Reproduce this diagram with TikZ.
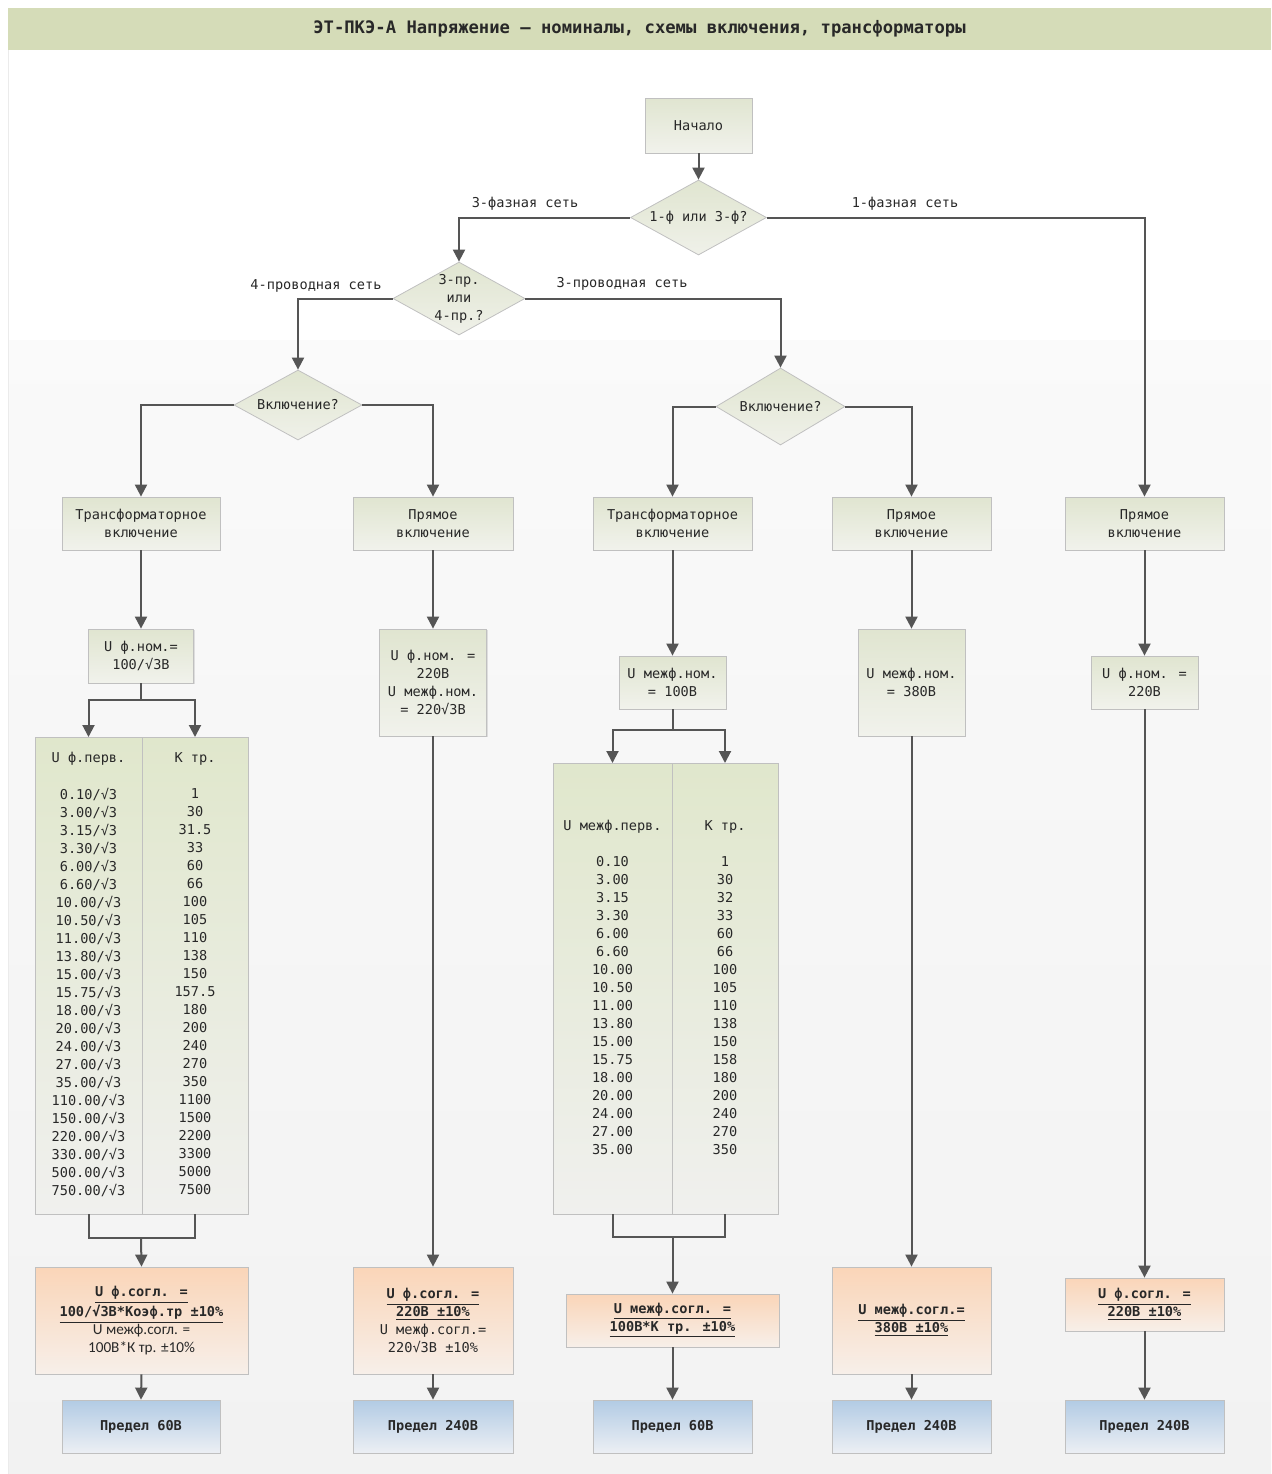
\documentclass[tikz,border=0pt]{standalone}
\usepackage{fontspec}
\setmainfont{DejaVu Sans Mono}
\newfontfamily\carl{Carlito}
\usetikzlibrary{shapes.geometric,arrows.meta,shadows,calc}
\definecolor{bordc}{RGB}{192,192,192}
\definecolor{arrc}{RGB}{85,85,85}
\definecolor{grtop}{RGB}{224,229,208}
\definecolor{grbot}{RGB}{241,242,236}
\definecolor{tbtop}{RGB}{224,231,204}
\definecolor{tbbot}{RGB}{240,240,238}
\definecolor{ortop}{RGB}{250,213,184}
\definecolor{orbot}{RGB}{247,239,233}
\definecolor{bltop}{RGB}{178,203,228}
\definecolor{blbot}{RGB}{236,239,244}
\definecolor{titlec}{RGB}{213,220,184}
\definecolor{bgc}{RGB}{242,242,242}
\definecolor{txtc}{RGB}{40,40,40}
\begin{document}
\begin{tikzpicture}[x=0.5pt,y=-0.5pt,
  txt/.style={font=\fontsize{6.8}{9}\selectfont, text=txtc},
  bx/.style={txt, draw=bordc, line width=0.4pt, align=center, inner sep=0pt,
    drop shadow={shadow xshift=0.7pt,shadow yshift=-0.7pt,fill=black,opacity=0.10}},
  grn/.style={bx, top color=grtop, bottom color=grbot},
  tbl/.style={bx, top color=tbtop, bottom color=tbbot},
  org/.style={bx, top color=ortop, bottom color=orbot},
  blu/.style={bx, top color=bltop, bottom color=blbot, font=\fontsize{6.8}{9}\selectfont\bfseries},
  dia/.style={shape=diamond, draw=bordc, line width=0.4pt, inner sep=0pt, top color=grtop, bottom color=grbot!90!grtop},
  cell/.style={txt, inner sep=0pt},
  arr/.style={draw=arrc, line width=1pt, -{Triangle[length=6pt,width=6pt]}},
  ln/.style={draw=arrc, line width=1pt}
]
\useasboundingbox (0,0) rectangle (1271,1474);
\fill[white] (0,0) rectangle (1271,1474);
\shade[top color=bgc!40!white, bottom color=bgc] (8,340) rectangle (1271,1474);
\draw[black!8, line width=0.4pt] (8,50) -- (8,1474);
\node[fill=titlec, minimum width=631.5pt, minimum height=21pt, inner sep=0pt,
  font=\fontsize{8.6}{10}\selectfont\bfseries, text=txtc] (title) at (639.5,29)
  {ЭТ-ПКЭ-А Напряжение – номиналы, схемы включения, трансформаторы};

% start and decisions
\node[grn, minimum width=53.5pt, minimum height=27.5pt] (start) at (698.5,125.5) {Начало};
\node[dia, minimum width=68pt, minimum height=37.5pt] (d1) at (698.5,217.5) {};
\node[cell, align=center] (d1t) at (d1) {1-ф или 3-ф?};
\node[dia, minimum width=66pt, minimum height=36.5pt] (d2) at (459,298.5) {};
\node[cell, align=center] (d2t) at (d2) {3-пр.\\или\\4-пр.?};
\node[dia, minimum width=64pt, minimum height=35pt] (d3) at (298,405) {};
\node[cell, align=center] (d3t) at (d3) {Включение?};
\node[dia, minimum width=64.5pt, minimum height=38.5pt] (d4) at (780.5,406.5) {};
\node[cell, align=center] (d4t) at (d4) {Включение?};

% edge labels
\node[cell] (l1) at (525,204) {3-фазная сеть};
\node[cell] (l2) at (905,204) {1-фазная сеть};
\node[cell] (l3) at (316,286) {4-проводная сеть};
\node[cell] (l4) at (622,284) {3-проводная сеть};

% connection type boxes
\node[grn, minimum width=79pt, minimum height=26.5pt] (t1) at (141,523.5) {Трансформаторное\\включение};
\node[grn, minimum width=80pt, minimum height=26.5pt] (p1) at (433,523.5) {Прямое\\включение};
\node[grn, minimum width=79.5pt, minimum height=26.5pt] (t2) at (672.5,523.5) {Трансформаторное\\включение};
\node[grn, minimum width=79.5pt, minimum height=26.5pt] (p2) at (911.5,523.5) {Прямое\\включение};
\node[grn, minimum width=79.5pt, minimum height=26.5pt] (p3) at (1144.5,523.5) {Прямое\\включение};

% nominal boxes
\node[grn, minimum width=52.5pt, minimum height=27pt] (a1) at (141,656) {U ф.ном.=\\100/√3В};
\node[grn, minimum width=53.5pt, minimum height=53.5pt] (a2) at (433,682.5) {U ф.ном. =\\220В\\U межф.ном.\\= 220√3В};
\node[grn, minimum width=53.5pt, minimum height=26.5pt] (a3) at (672.5,682.5) {U межф.ном.\\= 100В};
\node[grn, minimum width=53.5pt, minimum height=53.5pt] (a4) at (911.5,682.5) {U межф.ном.\\= 380В};
\node[grn, minimum width=53.5pt, minimum height=26.5pt] (a5) at (1144.5,682.5) {U ф.ном. =\\220В};

% table 1
\node[tbl, minimum width=106.5pt, minimum height=238.5pt] (tab1) at (141.5,975.5) {};
\draw[bordc, line width=0.4pt] (142,737) -- (142,1214);
\node[cell] (h1a) at (88.5,759) {U ф.перв.};
\node[cell] (h1b) at (195,759) {К тр.};
\foreach \a/\b [count=\i from 0] in {0.10/1, 3.00/30, 3.15/31.5, 3.30/33, 6.00/60, 6.60/66, 10.00/100, 10.50/105, 11.00/110, 13.80/138, 15.00/150, 15.75/157.5, 18.00/180, 20.00/200, 24.00/240, 27.00/270, 35.00/350, 110.00/1100, 150.00/1500, 220.00/2200, 330.00/3300, 500.00/5000, 750.00/7500}{
  \node[cell] (r1a\i) at (88.5,{794+18*\i}) {\a/√3};
  \node[cell] (r1b\i) at (195,{794+18*\i}) {\b};
}

% table 2
\node[tbl, minimum width=112.5pt, minimum height=225.5pt] (tab2) at (665.5,988.5) {};
\draw[bordc, line width=0.4pt] (672,763) -- (672,1214);
\node[cell] (h2a) at (612.5,827) {U межф.перв.};
\node[cell] (h2b) at (725,827) {К тр.};
\foreach \a/\b [count=\i from 0] in {0.10/1, 3.00/30, 3.15/32, 3.30/33, 6.00/60, 6.60/66, 10.00/100, 10.50/105, 11.00/110, 13.80/138, 15.00/150, 15.75/158, 18.00/180, 20.00/200, 24.00/240, 27.00/270, 35.00/350}{
  \node[cell] (r2a\i) at (612.5,{862+18*\i}) {\a};
  \node[cell] (r2b\i) at (725,{862+18*\i}) {\b};
}

% agreed-voltage boxes
\node[org, minimum width=106.5pt, minimum height=53.5pt] (o1) at (141.5,1320.5)
  {{\bfseries\underline{U ф.согл. =}}\\{\bfseries\underline{100/√3В*Коэф.тр ±10\%}}\\{\carl\fontsize{7.6}{9}\selectfont U межф.согл. =}\\{\carl\fontsize{7.6}{9}\selectfont 100В*К тр. ±10\%}};
\node[org, minimum width=80pt, minimum height=53.5pt] (o2) at (433,1320.5)
  {{\bfseries\underline{U ф.согл. =}}\\{\bfseries\underline{220В ±10\%}}\\U межф.согл.=\\220√3В ±10\%};
\node[org, minimum width=106.5pt, minimum height=26.5pt] (o3) at (672.5,1320.5)
  {{\bfseries\underline{U межф.согл. =}}\\{\bfseries\underline{100В*К тр. ±10\%}}};
\node[org, minimum width=79.5pt, minimum height=53.5pt] (o4) at (911.5,1320.5)
  {{\bfseries\underline{U межф.согл.=}}\\{\bfseries\underline{380В ±10\%}}};
\node[org, minimum width=79.5pt, minimum height=26.5pt] (o5) at (1144.5,1304.5)
  {{\bfseries\underline{U ф.согл. =}}\\{\bfseries\underline{220В ±10\%}}};

% limit boxes
\node[blu, minimum width=79pt, minimum height=26.5pt] (b1) at (141,1426.5) {Предел 60В};
\node[blu, minimum width=80pt, minimum height=26.5pt] (b2) at (433,1426.5) {Предел 240В};
\node[blu, minimum width=79.5pt, minimum height=26.5pt] (b3) at (672.5,1426.5) {Предел 60В};
\node[blu, minimum width=79.5pt, minimum height=26.5pt] (b4) at (911.5,1426.5) {Предел 240В};
\node[blu, minimum width=79.5pt, minimum height=26.5pt] (b5) at (1144.5,1426.5) {Предел 240В};

% helper coordinates
\coordinate (s1) at (141,700);
\coordinate (c1a) at (88.5,737);
\coordinate (c1b) at (195,737);
\coordinate (c1c) at (88.5,1214);
\coordinate (c1d) at (195,1214);
\coordinate (j1) at (141,1238);
\coordinate (s2) at (672.5,730);
\coordinate (c2a) at (612.5,763);
\coordinate (c2b) at (725,763);
\coordinate (c2c) at (612.5,1214);
\coordinate (c2d) at (725,1214);
\coordinate (j2) at (672.5,1237);

% connectors
\draw[arr] (start.south) -- (d1.north);
\draw[arr] (d1.west) -| (d2.north);
\draw[arr] (d1.east) -| (p3.north);
\draw[arr] (d2.west) -| (d3.north);
\draw[arr] (d2.east) -| (d4.north);
\draw[arr] (d3.west) -| (t1.north);
\draw[arr] (d3.east) -| (p1.north);
\draw[arr] (d4.west) -| (t2.north);
\draw[arr] (d4.east) -| (p2.north);
\draw[arr] (t1.south) -- (a1.north);
\draw[arr] (p1.south) -- (a2.north);
\draw[arr] (t2.south) -- (a3.north);
\draw[arr] (p2.south) -- (a4.north);
\draw[arr] (p3.south) -- (a5.north);
\draw[ln] (a1.south) -- (s1);
\draw[arr] (s1) -| (c1a);
\draw[arr] (s1) -| (c1b);
\draw[ln] (c1c) |- (j1) -| (c1d);
\draw[arr] (j1) -- (o1.north);
\draw[ln] (a3.south) -- (s2);
\draw[arr] (s2) -| (c2a);
\draw[arr] (s2) -| (c2b);
\draw[ln] (c2c) |- (j2) -| (c2d);
\draw[arr] (j2) -- (o3.north);
\draw[arr] (a2.south) -- (o2.north);
\draw[arr] (a4.south) -- (o4.north);
\draw[arr] (a5.south) -- (o5.north);
\draw[arr] (o1.south) -- (b1.north);
\draw[arr] (o2.south) -- (b2.north);
\draw[arr] (o3.south) -- (b3.north);
\draw[arr] (o4.south) -- (b4.north);
\draw[arr] (o5.south) -- (b5.north);
\end{tikzpicture}
\end{document}
